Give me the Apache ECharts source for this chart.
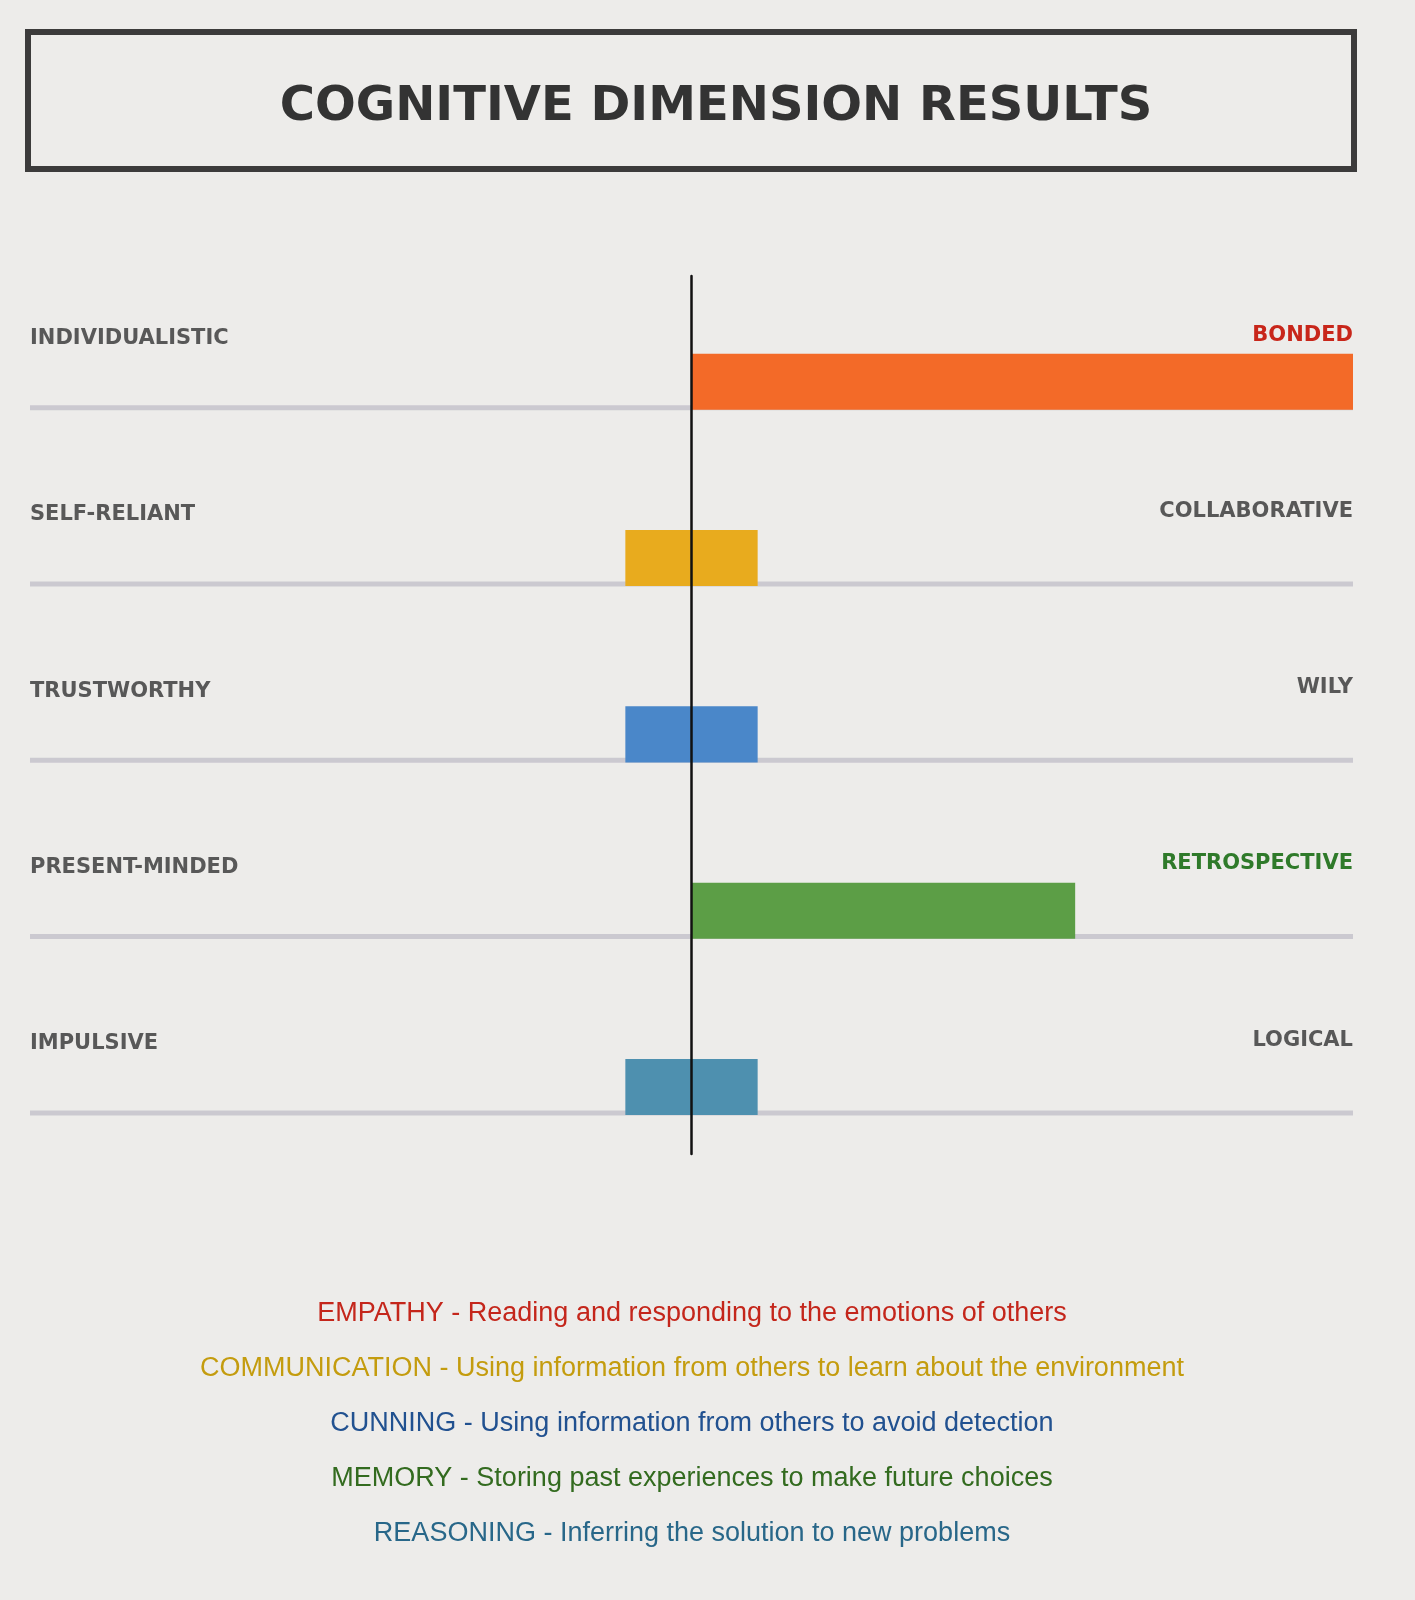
<!DOCTYPE html>
<html>
<head>
<meta charset="utf-8">
<script src="https://cdn.jsdelivr.net/npm/echarts@6/dist/echarts.min.js"></script>
<style>
  html, body { margin: 0; padding: 0; background: #edecea; }
  #chart { width: 1415px; height: 1600px; }
</style>
</head>
<body>
<div id="chart"></div>
<script>
// the two poles of each dimension, top to bottom
const leftPoles = ['INDIVIDUALISTIC', 'SELF-RELIANT', 'TRUSTWORTHY', 'PRESENT-MINDED', 'IMPULSIVE'];
const rightPoles = ['BONDED', 'COLLABORATIVE', 'WILY', 'RETROSPECTIVE', 'LOGICAL'];
// bar extent on a -100 (left pole) .. 100 (right pole) scale
const barStart = [0, -10, -10, 0, -10];
const barEnd = [100, 10, 10, 58, 10];

// legend under the chart
const legendTerms = ['EMPATHY', 'COMMUNICATION', 'CUNNING', 'MEMORY', 'REASONING'];
const legendTexts = [
  'Reading and responding to the emotions of others',
  'Using information from others to learn about the environment',
  'Using information from others to avoid detection',
  'Storing past experiences to make future choices',
  'Inferring the solution to new problems'
];

const barColors = ['#f36a28', '#e8ab1e', '#4a87c9', '#5c9e46', '#4e90af'];
const rightLabelColors = ['#c8261a', '#585858', '#585858', '#2f7a2a', '#585858'];
const legendColors = ['#c4261b', '#c49c0e', '#215190', '#336b1f', '#286789'];

const rows = leftPoles.map((_, i) => i);
const chart = echarts.init(document.getElementById('chart'), null, { renderer: 'canvas' });

const legendGraphics = legendTerms.map((t, i) => ({
  type: 'text',
  x: 692,
  y: 1314 + i * 55,
  style: {
    text: t + ' - ' + legendTexts[i],
    fill: legendColors[i],
    font: '27px "Liberation Sans", Arial, sans-serif',
    textAlign: 'center',
    textVerticalAlign: 'middle'
  }
}));

chart.setOption({
  animation: false,
  backgroundColor: '#edecea',
  grid: { left: 30, right: 62, top: 276, bottom: 446 },
  xAxis: {
    type: 'value', min: -100, max: 100,
    show: false
  },
  yAxis: {
    type: 'value', min: -0.6, max: 4.38, inverse: true,
    z: 10,
    axisLine: { show: true, onZero: true, lineStyle: { color: '#111', width: 2.5 } },
    axisTick: { show: false },
    axisLabel: { show: false },
    splitLine: { show: false }
  },
  graphic: [
    {
      type: 'rect',
      shape: { x: 28, y: 32, width: 1326, height: 137 },
      style: { fill: 'none', stroke: '#3c3b3b', lineWidth: 6 }
    },
    {
      type: 'text',
      x: 716,
      y: 108,
      style: {
        text: 'COGNITIVE DIMENSION RESULTS',
        fill: '#333333',
        font: 'bold 48px "DejaVu Sans", sans-serif',
        textAlign: 'center',
        textVerticalAlign: 'middle'
      }
    }
  ].concat(legendGraphics),
  series: [
    {
      // gray guide line and pole labels for each row
      type: 'custom',
      z: 1,
      silent: true,
      data: rows,
      encode: { y: 0 },
      renderItem: (params, api) => {
        const row = api.value(0);
        const a = api.coord([-100, row + 0.147]);
        const b = api.coord([100, row + 0.147]);
        const l = api.coord([-100, row - 0.245]);
        const r = api.coord([100, row - 0.265]);
        return {
          type: 'group',
          children: [
            {
              type: 'line',
              shape: { x1: a[0], y1: a[1], x2: b[0], y2: b[1] },
              style: { stroke: '#cbc9d0', lineWidth: 5 }
            },
            {
              type: 'text',
              x: l[0], y: l[1],
              style: {
                text: leftPoles[row], fill: '#585858',
                font: 'bold 21px "DejaVu Sans", sans-serif',
                textAlign: 'left', textVerticalAlign: 'middle'
              }
            },
            {
              type: 'text',
              x: r[0], y: r[1],
              style: {
                text: rightPoles[row], fill: rightLabelColors[row],
                font: 'bold 21px "DejaVu Sans", sans-serif',
                textAlign: 'right', textVerticalAlign: 'middle'
              }
            }
          ]
        };
      }
    },
    {
      type: 'custom',
      z: 2,
      silent: true,
      data: rows.map(i => [barStart[i], barEnd[i], i]),
      encode: { x: [0, 1], y: 2 },
      renderItem: (params, api) => {
        const row = api.value(2);
        const p0 = api.coord([api.value(0), row]);
        const p1 = api.coord([api.value(1), row]);
        const h = api.size([0, 0.318])[1];
        return {
          type: 'rect',
          shape: { x: p0[0], y: p0[1] - h / 2, width: p1[0] - p0[0], height: h },
          style: { fill: barColors[row] }
        };
      }
    }
  ]
});
</script>
</body>
</html>
